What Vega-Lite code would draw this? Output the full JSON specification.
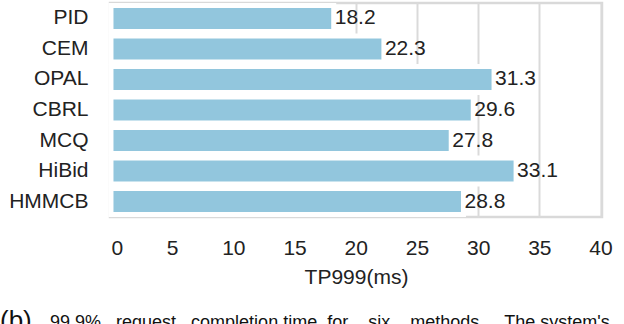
{
  "$schema": "https://vega.github.io/schema/vega-lite/v6.json",
  "width": 492,
  "height": 214,
  "autosize": "none",
  "padding": {"left": 110, "top": 3, "right": 22, "bottom": 107},
  "config": {
    "font": "Liberation Sans",
    "view": {"stroke": "#d9d9d9", "strokeWidth": 2.5},
    "background": "white"
  },
  "title": {
    "text": "(b)",
    "subtitle": "\u200b\u00a0\u00a0\u00a0\u00a0\u00a0\u00a0\u00a0\u00a0\u00a0\u00a099.9%\u00a0\u00a0\u00a0request\u00a0\u00a0\u00a0completion\u00a0time\u00a0\u00a0for\u00a0\u00a0\u00a0\u00a0six\u00a0\u00a0\u00a0\u00a0methods.\u00a0\u00a0\u00a0\u00a0The\u00a0system's",
    "orient": "bottom",
    "anchor": "start",
    "frame": "group",
    "dx": -110,
    "offset": 21,
    "fontSize": 26,
    "fontWeight": "normal",
    "color": "#111",
    "subtitleFontSize": 18,
    "subtitleColor": "#111",
    "subtitlePadding": -20,
    "font": "Liberation Sans",
    "subtitleFont": "Liberation Sans"
  },
  "data": {
    "values": [
      {"method": "PID", "tp999": 18.2},
      {"method": "CEM", "tp999": 22.3},
      {"method": "OPAL", "tp999": 31.3},
      {"method": "CBRL", "tp999": 29.6},
      {"method": "MCQ", "tp999": 27.8},
      {"method": "HiBid", "tp999": 33.1},
      {"method": "HMMCB", "tp999": 28.8}
    ]
  },
  "encoding": {
    "y": {
      "field": "method",
      "type": "nominal",
      "sort": null,
      "scale": {"paddingInner": 0.15, "paddingOuter": 0.08},
      "axis": {
        "title": null,
        "ticks": false,
        "domain": false,
        "labelFontSize": 21,
        "labelColor": "#222",
        "labelPadding": 22
      }
    },
    "x": {
      "field": "tp999",
      "type": "quantitative",
      "scale": {"domain": [-0.08, 40.12], "nice": false, "zero": false},
      "axis": {
        "values": [0, 5, 10, 15, 20, 25, 30, 35, 40],
        "title": "TP999(ms)",
        "titleFontSize": 21,
        "titleFontWeight": "normal",
        "titleColor": "#222",
        "titlePadding": 8,
        "ticks": false,
        "domain": false,
        "labelFontSize": 21,
        "labelColor": "#222",
        "labelPadding": 20,
        "grid": true,
        "gridColor": "#dadada",
        "gridWidth": 2
      }
    }
  },
  "layer": [
    {
      "mark": {"type": "bar", "color": "#92c6dd", "stroke": "white", "strokeWidth": 5},
      "encoding": {"x2": {"datum": 0}}
    },
    {
      "mark": {"type": "text", "align": "left", "dx": 1, "fontSize": 21, "color": "#222"},
      "encoding": {"text": {"field": "tp999", "type": "quantitative", "format": ".1f"}}
    }
  ]
}
